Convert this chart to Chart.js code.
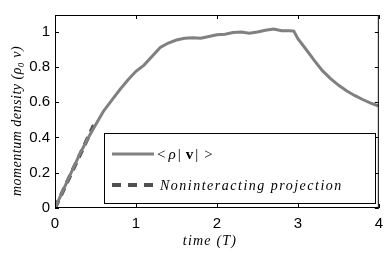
<!DOCTYPE html>
<html>
<head>
<meta charset="utf-8">
<script src="https://cdn.jsdelivr.net/npm/chart.js@4/dist/chart.umd.min.js"></script>
<style>
  html, body { margin: 0; padding: 0; background: #fff; }
  #wrap { width: 390px; height: 257px; }
</style>
</head>
<body>
<div id="wrap"><canvas id="momentumChart" width="390" height="257"></canvas></div>
<script>
// time (T) and momentum density values
var timeValues = [0, 0.1, 0.2, 0.3, 0.4, 0.5, 0.6, 0.7, 0.8, 0.9, 1.0, 1.1, 1.2, 1.3, 1.4, 1.5, 1.6, 1.7, 1.8, 1.9,
    2.0, 2.1, 2.2, 2.3, 2.4, 2.5, 2.6, 2.7, 2.8, 2.9, 2.95, 3.0, 3.1, 3.2, 3.3, 3.4, 3.5, 3.6, 3.7, 3.8, 3.9, 4.0];
var momentumValues = [0, 0.1, 0.2, 0.3, 0.39, 0.47, 0.55, 0.61, 0.67, 0.725, 0.775, 0.81, 0.86, 0.91, 0.935, 0.952, 0.962, 0.965, 0.962, 0.972,
    0.982, 0.985, 0.995, 0.998, 0.99, 0.998, 1.008, 1.015, 1.005, 1.005, 1.003, 0.96, 0.9, 0.838, 0.78, 0.735, 0.697, 0.665, 0.638, 0.615, 0.595, 0.578];

var projTime = [0, 0.48];
var projValues = [0, 0.47];

var xTicks = [0, 1, 2, 3, 4];
var yTicks = [0, 0.2, 0.4, 0.6, 0.8, 1];

var solidColor = '#808080';
var dashColor = '#505050';
var serif = '"Liberation Serif", "DejaVu Serif", serif';

function toPoints(xs, ys) {
    return xs.map(function (x, i) { return { x: x, y: ys[i] }; });
}

// inward ticks on all four sides, the box, axis titles and the legend
var framePlugin = {
    id: 'frame',
    afterDraw: function (chart) {
        var ctx = chart.ctx;
        var a = chart.chartArea;
        var xs = chart.scales.x;
        var ys = chart.scales.y;
        ctx.save();
        ctx.strokeStyle = '#000';
        ctx.lineWidth = 1;
        ctx.strokeRect(a.left + 0.5, a.top + 0.5, a.right - a.left - 1, a.bottom - a.top - 1);
        ctx.beginPath();
        xTicks.forEach(function (t) {
            var px = Math.round(xs.getPixelForValue(t)) + 0.5;
            ctx.moveTo(px, a.bottom); ctx.lineTo(px, a.bottom - 4);
            ctx.moveTo(px, a.top); ctx.lineTo(px, a.top + 4);
        });
        yTicks.forEach(function (t) {
            var py = Math.round(ys.getPixelForValue(t)) + 0.5;
            ctx.moveTo(a.left, py); ctx.lineTo(a.left + 4, py);
            ctx.moveTo(a.right, py); ctx.lineTo(a.right - 4, py);
        });
        ctx.stroke();

        // axis titles
        ctx.fillStyle = '#000';
        ctx.font = 'italic 14px ' + serif;
        ctx.textAlign = 'center';
        ctx.textBaseline = 'middle';
        ctx.letterSpacing = '1.2px';
        ctx.fillText('time (T)', 210, 241);
        ctx.letterSpacing = '0.5px';
        ctx.save();
        ctx.translate(17, 121);
        ctx.rotate(-Math.PI / 2);
        ctx.fillText('momentum density (\u03c1\u2080 v)', 0, 0);
        ctx.restore();

        // legend box
        var lx = 104, ly = 133, lw = 271, lh = 70;
        ctx.fillStyle = '#fff';
        ctx.fillRect(lx, ly, lw, lh);
        ctx.strokeRect(lx + 0.5, ly + 0.5, lw, lh);

        ctx.lineWidth = 3;
        ctx.strokeStyle = solidColor;
        ctx.beginPath();
        ctx.moveTo(112, 154); ctx.lineTo(154, 154);
        ctx.stroke();

        ctx.lineWidth = 4;
        ctx.strokeStyle = dashColor;
        ctx.setLineDash([9, 7]);
        ctx.beginPath();
        ctx.moveTo(112, 185); ctx.lineTo(154, 185);
        ctx.stroke();
        ctx.setLineDash([]);

        ctx.fillStyle = '#000';
        ctx.textAlign = 'left';
        ctx.textBaseline = 'alphabetic';
        ctx.letterSpacing = '0px';
        var tx = 157;
        ctx.font = '15px ' + serif;
        ctx.fillText('<', tx, 159); tx += ctx.measureText('<').width + 3;
        ctx.font = 'italic 15px ' + serif;
        ctx.fillText('\u03c1', tx, 159); tx += ctx.measureText('\u03c1').width + 2;
        ctx.font = '15px ' + serif;
        ctx.fillText('|', tx, 159); tx += ctx.measureText('|').width + 5;
        ctx.font = 'bold 15px ' + serif;
        ctx.fillText('v', tx, 159); tx += ctx.measureText('v').width + 2;
        ctx.font = '15px ' + serif;
        ctx.fillText('|', tx, 159); tx += ctx.measureText('|').width + 6;
        ctx.fillText('>', tx, 159);

        ctx.font = 'italic 14px ' + serif;
        ctx.letterSpacing = '1.5px';
        ctx.fillText('Noninteracting projection', 160, 190);
        ctx.restore();
    }
};

var ctx = document.getElementById('momentumChart').getContext('2d');
var momentumChart = new Chart(ctx, {
    type: 'line',
    data: {
        datasets: [{
            label: '<\u03c1|v|>',
            data: toPoints(timeValues, momentumValues),
            borderColor: solidColor,
            borderWidth: 3,
            pointRadius: 0,
            tension: 0,
            fill: false
        }, {
            label: 'Noninteracting projection',
            data: toPoints(projTime, projValues),
            borderColor: dashColor,
            borderWidth: 4,
            borderDash: [8, 6],
            pointRadius: 0,
            fill: false
        }]
    },
    options: {
        responsive: false,
        animation: false,
        events: [],
        layout: {
            padding: { left: 0, top: 15, right: 9, bottom: 0 }
        },
        plugins: {
            legend: { display: false },
            tooltip: { enabled: false },
            title: { display: false }
        },
        scales: {
            x: {
                type: 'linear',
                min: 0,
                max: 4,
                afterBuildTicks: function (scale) {
                    scale.ticks = xTicks.map(function (v) { return { value: v }; });
                },
                afterFit: function (scale) { scale.height = 49; },
                grid: { display: false, drawTicks: false },
                border: { display: false },
                ticks: {
                    color: '#000',
                    padding: 7,
                    font: { family: '"Liberation Sans", Arial, sans-serif', size: 15 }
                }
            },
            y: {
                min: 0,
                max: 1.094,
                afterBuildTicks: function (scale) {
                    scale.ticks = yTicks.map(function (v) { return { value: v }; });
                },
                afterFit: function (scale) { scale.width = 55; },
                grid: { display: false, drawTicks: false },
                border: { display: false },
                ticks: {
                    color: '#000',
                    padding: 5,
                    font: { family: '"Liberation Sans", Arial, sans-serif', size: 15 },
                    callback: function (value) { return String(value); }
                }
            }
        }
    },
    plugins: [framePlugin]
});
</script>
</body>
</html>
